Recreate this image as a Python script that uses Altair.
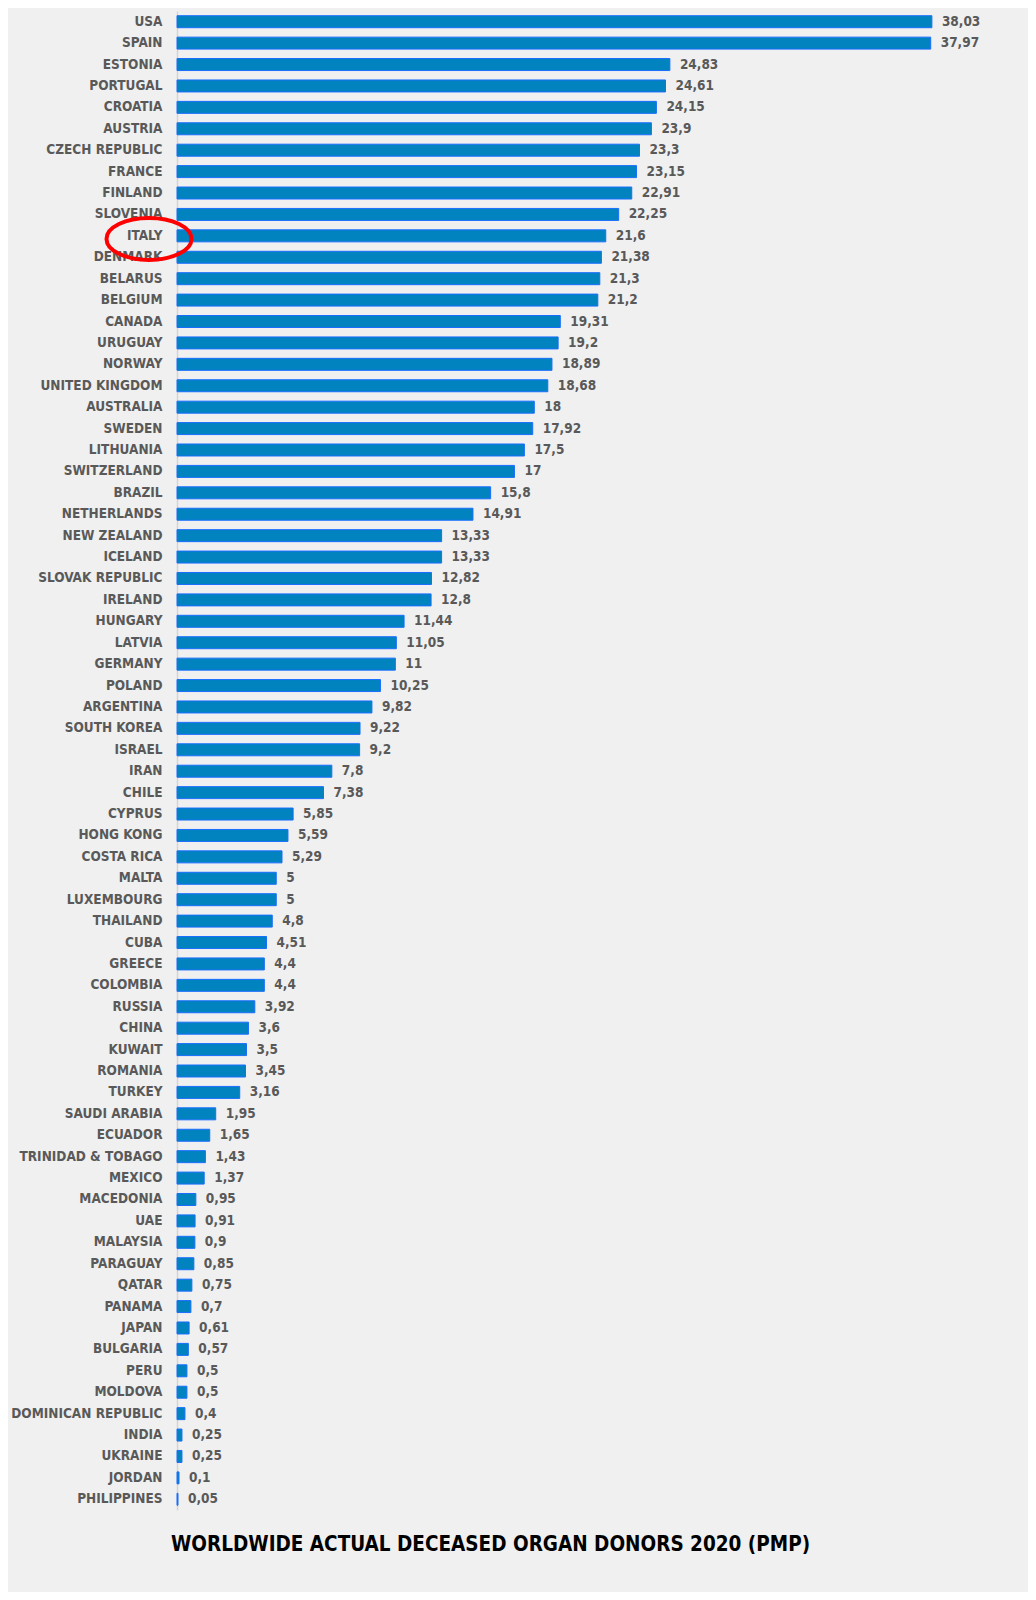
import altair as alt
import pandas as pd

countries = [
    "USA", "SPAIN", "ESTONIA", "PORTUGAL", "CROATIA", "AUSTRIA", "CZECH REPUBLIC",
    "FRANCE", "FINLAND", "SLOVENIA", "ITALY", "DENMARK", "BELARUS", "BELGIUM",
    "CANADA", "URUGUAY", "NORWAY", "UNITED KINGDOM", "AUSTRALIA", "SWEDEN",
    "LITHUANIA", "SWITZERLAND", "BRAZIL", "NETHERLANDS", "NEW ZEALAND", "ICELAND",
    "SLOVAK REPUBLIC", "IRELAND", "HUNGARY", "LATVIA", "GERMANY", "POLAND",
    "ARGENTINA", "SOUTH KOREA", "ISRAEL", "IRAN", "CHILE", "CYPRUS", "HONG KONG",
    "COSTA RICA", "MALTA", "LUXEMBOURG", "THAILAND", "CUBA", "GREECE", "COLOMBIA",
    "RUSSIA", "CHINA", "KUWAIT", "ROMANIA", "TURKEY", "SAUDI ARABIA", "ECUADOR",
    "TRINIDAD & TOBAGO", "MEXICO", "MACEDONIA", "UAE", "MALAYSIA", "PARAGUAY",
    "QATAR", "PANAMA", "JAPAN", "BULGARIA", "PERU", "MOLDOVA",
    "DOMINICAN REPUBLIC", "INDIA", "UKRAINE", "JORDAN", "PHILIPPINES",
]
values = [
    38.03, 37.97, 24.83, 24.61, 24.15, 23.9, 23.3,
    23.15, 22.91, 22.25, 21.6, 21.38, 21.3, 21.2,
    19.31, 19.2, 18.89, 18.68, 18, 17.92,
    17.5, 17, 15.8, 14.91, 13.33, 13.33,
    12.82, 12.8, 11.44, 11.05, 11, 10.25,
    9.82, 9.22, 9.2, 7.8, 7.38, 5.85, 5.59,
    5.29, 5, 5, 4.8, 4.51, 4.4, 4.4,
    3.92, 3.6, 3.5, 3.45, 3.16, 1.95, 1.65,
    1.43, 1.37, 0.95, 0.91, 0.9, 0.85,
    0.75, 0.7, 0.61, 0.57, 0.5, 0.5,
    0.4, 0.25, 0.25, 0.1, 0.05,
]
highlight = ["ITALY"]
title_text = "WORLDWIDE ACTUAL DECEASED ORGAN DONORS 2020 (PMP)"

df = pd.DataFrame({
    "country": countries,
    "value": values,
    "label": [f"{v:g}".replace(".", ",") for v in values],
})
hl = pd.DataFrame({"country": highlight})

FONT = "DejaVu Sans Condensed"
GRAY = "#595959"

y_enc = alt.Y(
    "country:N",
    sort=countries,
    title=None,
    scale=alt.Scale(paddingInner=0.44, paddingOuter=0.22),
    axis=alt.Axis(
        labelFont=FONT, labelFontSize=13.5, labelFontWeight="bold",
        labelColor=GRAY, ticks=False, tickSize=0, labelPadding=15,
        labelLimit=200,
        domainColor="#D4D4D4", domainWidth=1.5, grid=False,
    ),
)
x_enc = alt.X(
    "value:Q",
    scale=alt.Scale(domain=[0, 40], nice=False),
    axis=None,
)

bars = alt.Chart(df).mark_bar(
    color="#0083BF", stroke="#1A6EFF", strokeWidth=1
).encode(x=x_enc, y=y_enc)

text = alt.Chart(df).mark_text(
    align="left", baseline="middle", dx=10,
    font=FONT, fontSize=13.5, fontWeight="bold", color=GRAY,
).encode(x=x_enc, y=y_enc, text="label:N")

ellipse_path = "M -1 0.072 A 1 0.494 0 1 0 1 0.072 A 1 0.494 0 1 0 -1 0.072 Z"
ring = alt.Chart(hl).mark_point(
    shape=ellipse_path, size=7225, filled=False,
    stroke="#FF0000", strokeWidth=4, opacity=1,
).encode(x=alt.value(-28), y=y_enc)

chart = alt.layer(bars, text, ring).properties(
    width=794,
    height=1499,
    autosize=alt.AutoSizeParams(type="none"),
    padding={"left": 169, "top": 3, "right": 57, "bottom": 82},
    background="#F0F0F0",
    title=alt.TitleParams(
        title_text, orient="bottom", anchor="start", frame="group",
        dx=-6, offset=25, font=FONT, fontSize=20.5, fontWeight="bold",
        color="#000000",
    ),
).configure_view(stroke=None)

chart.save("out.html", embed_options={"renderer": "svg", "actions": False})
